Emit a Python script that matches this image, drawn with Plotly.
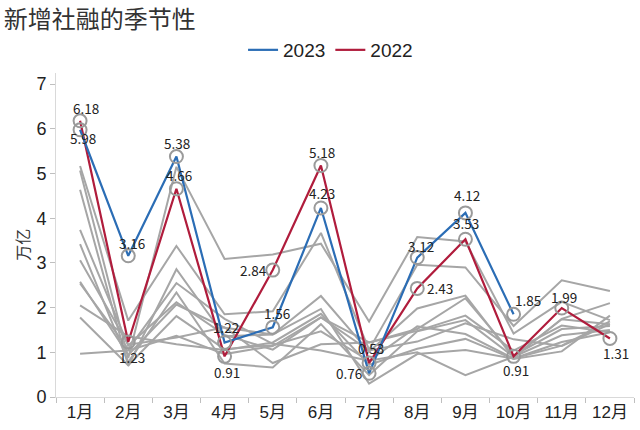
import plotly.graph_objects as go

months = ["1月", "2月", "3月", "4月", "5月", "6月", "7月", "8月", "9月", "10月", "11月", "12月"]

# Historical years (grey background lines), unit: 万亿
y2021 = [5.17, 1.71, 3.38, 1.85, 1.92, 3.67, 1.06, 2.96, 2.90, 1.59, 2.61, 2.37]
y2020 = [5.07, 0.87, 5.15, 3.09, 3.19, 3.43, 1.69, 3.58, 3.48, 1.42, 2.13, 1.72]
y2019 = [4.64, 0.70, 2.86, 1.36, 1.40, 2.26, 1.01, 1.98, 2.27, 0.88, 1.75, 2.10]
y2018 = [3.06, 1.17, 1.33, 1.56, 0.76, 1.18, 1.22, 1.52, 2.21, 0.93, 1.52, 1.59]
y2017 = [3.74, 1.15, 2.12, 1.39, 1.06, 1.78, 1.22, 1.48, 1.82, 1.04, 1.60, 1.45]
y2016 = [3.42, 0.78, 2.34, 0.75, 0.66, 1.63, 0.49, 1.47, 1.72, 0.90, 1.74, 1.63]
y2015 = [2.05, 1.36, 1.18, 1.05, 1.22, 1.86, 0.72, 1.08, 1.30, 0.85, 1.02, 1.82]
y2014 = [2.58, 0.94, 2.07, 1.55, 1.40, 1.97, 0.30, 0.96, 1.05, 0.86, 1.15, 1.69]
y2013 = [2.54, 1.07, 2.55, 1.75, 1.19, 1.04, 0.81, 1.58, 1.41, 0.86, 1.23, 1.45]
y2012 = [0.97, 1.04, 1.37, 0.96, 1.14, 1.78, 1.04, 1.24, 1.65, 1.29, 1.14, 1.63]
y2011 = [1.78, 0.71, 1.81, 1.07, 1.16, 1.47, 0.81, 1.00, 0.49, 0.90, 1.38, 1.50]
hist_years = [y2011, y2012, y2013, y2014, y2015, y2016, y2017, y2018, y2019, y2020, y2021]

v2023 = [5.98, 3.16, 5.38, 1.22, 1.56, 4.23, 0.53, 3.12, 4.12, 1.85]
v2022 = [6.18, 1.23, 4.66, 0.91, 2.84, 5.18, 0.76, 2.43, 3.53, 0.91, 1.99, 1.31]

# label offsets in pixels (xshift, yshift) relative to each point
off2023 = [(3, -8), (4, 13), (1, 14), (1, 15), (4, 14), (1, 15), (2, 25), (4, 12), (2, 18), (14, 14)]
off2022 = [(6, 13), (4, -15), (3, 14), (2, -16), (-19, 0), (1, 14), (-20, -10), (23, 0),
           (1, 16), (2, -14), (2, 11), (6, -15)]

BLUE = "#2B6DB5"
RED = "#B01C3C"
GREY = "#A6A6A6"
CIRCLE = "#9A9A9A"

fig = go.Figure()
for ys in hist_years:
    fig.add_trace(go.Scatter(x=months, y=ys, mode="lines",
                             line=dict(color=GREY, width=2),
                             showlegend=False, hoverinfo="skip"))

fig.add_trace(go.Scatter(x=months, y=v2022, mode="lines", name="2022",
                         line=dict(color=RED, width=2.2), legendrank=2))
fig.add_trace(go.Scatter(x=months[:len(v2023)], y=v2023, mode="lines", name="2023",
                         line=dict(color=BLUE, width=2.2), legendrank=1))

circ = dict(symbol="circle-open", size=13, color=CIRCLE, line=dict(width=2, color=CIRCLE))
fig.add_trace(go.Scatter(x=months, y=v2022, mode="markers", marker=circ, showlegend=False))
fig.add_trace(go.Scatter(x=months[:len(v2023)], y=v2023, mode="markers", marker=circ,
                         showlegend=False))

label_font = dict(family="Noto Sans CJK SC, DejaVu Sans", size=13.5, color="#222222")
for vals, offs in ((v2023, off2023), (v2022, off2022)):
    for m, v, (dx, dy) in zip(months, vals, offs):
        fig.add_annotation(x=m, y=v, text=f"{v:.2f}", showarrow=False,
                           xshift=dx, yshift=dy, font=label_font,
                           xanchor="center", yanchor="middle")

# y-axis title
fig.add_annotation(xref="paper", yref="paper", x=-34 / 578, y=0.47, text="万亿",
                   textangle=-90, showarrow=False, xanchor="center", yanchor="middle",
                   font=dict(family="Noto Sans CJK SC", size=16, color="#333333"))

fig.update_layout(
    width=640, height=430,
    margin=dict(l=56, r=6, t=73, b=33, autoexpand=False),
    paper_bgcolor="white", plot_bgcolor="white",
    font=dict(family="Liberation Sans, Noto Sans CJK SC", color="#222222"),
    title=dict(text="新增社融的季节性", x=0.006, xanchor="left", y=0.955, yanchor="middle",
               font=dict(family="Noto Sans CJK SC", size=24, color="#333333")),
    legend=dict(orientation="h", x=0.475, xanchor="center", y=1.071, yanchor="middle",
                font=dict(family="Liberation Sans", size=19, color="#222222"),
                itemwidth=30, tracegroupgap=0),
    showlegend=True,
)
fig.update_xaxes(
    type="category", range=[-0.5, 11.5], tickson="boundaries", automargin=False,
    showline=True, linecolor="#D9D9D9", linewidth=1,
    ticks="outside", ticklen=5, tickcolor="#BFBFBF",
    showgrid=False, zeroline=False,
    tickfont=dict(family="Liberation Sans, Noto Sans CJK SC", size=17, color="#222222"),
)
fig.update_yaxes(
    range=[0, 7.25], dtick=1, tick0=0, automargin=False,
    showline=True, linecolor="#D9D9D9", linewidth=1,
    ticks="outside", ticklen=5, tickcolor="#BFBFBF",
    showgrid=False, zeroline=False,
    tickfont=dict(family="Liberation Sans", size=18, color="#222222"),
)

fig.write_html("out.html", config={"displayModeBar": False},
               post_script="document.body.style.margin='0';document.body.style.overflow='hidden';")
